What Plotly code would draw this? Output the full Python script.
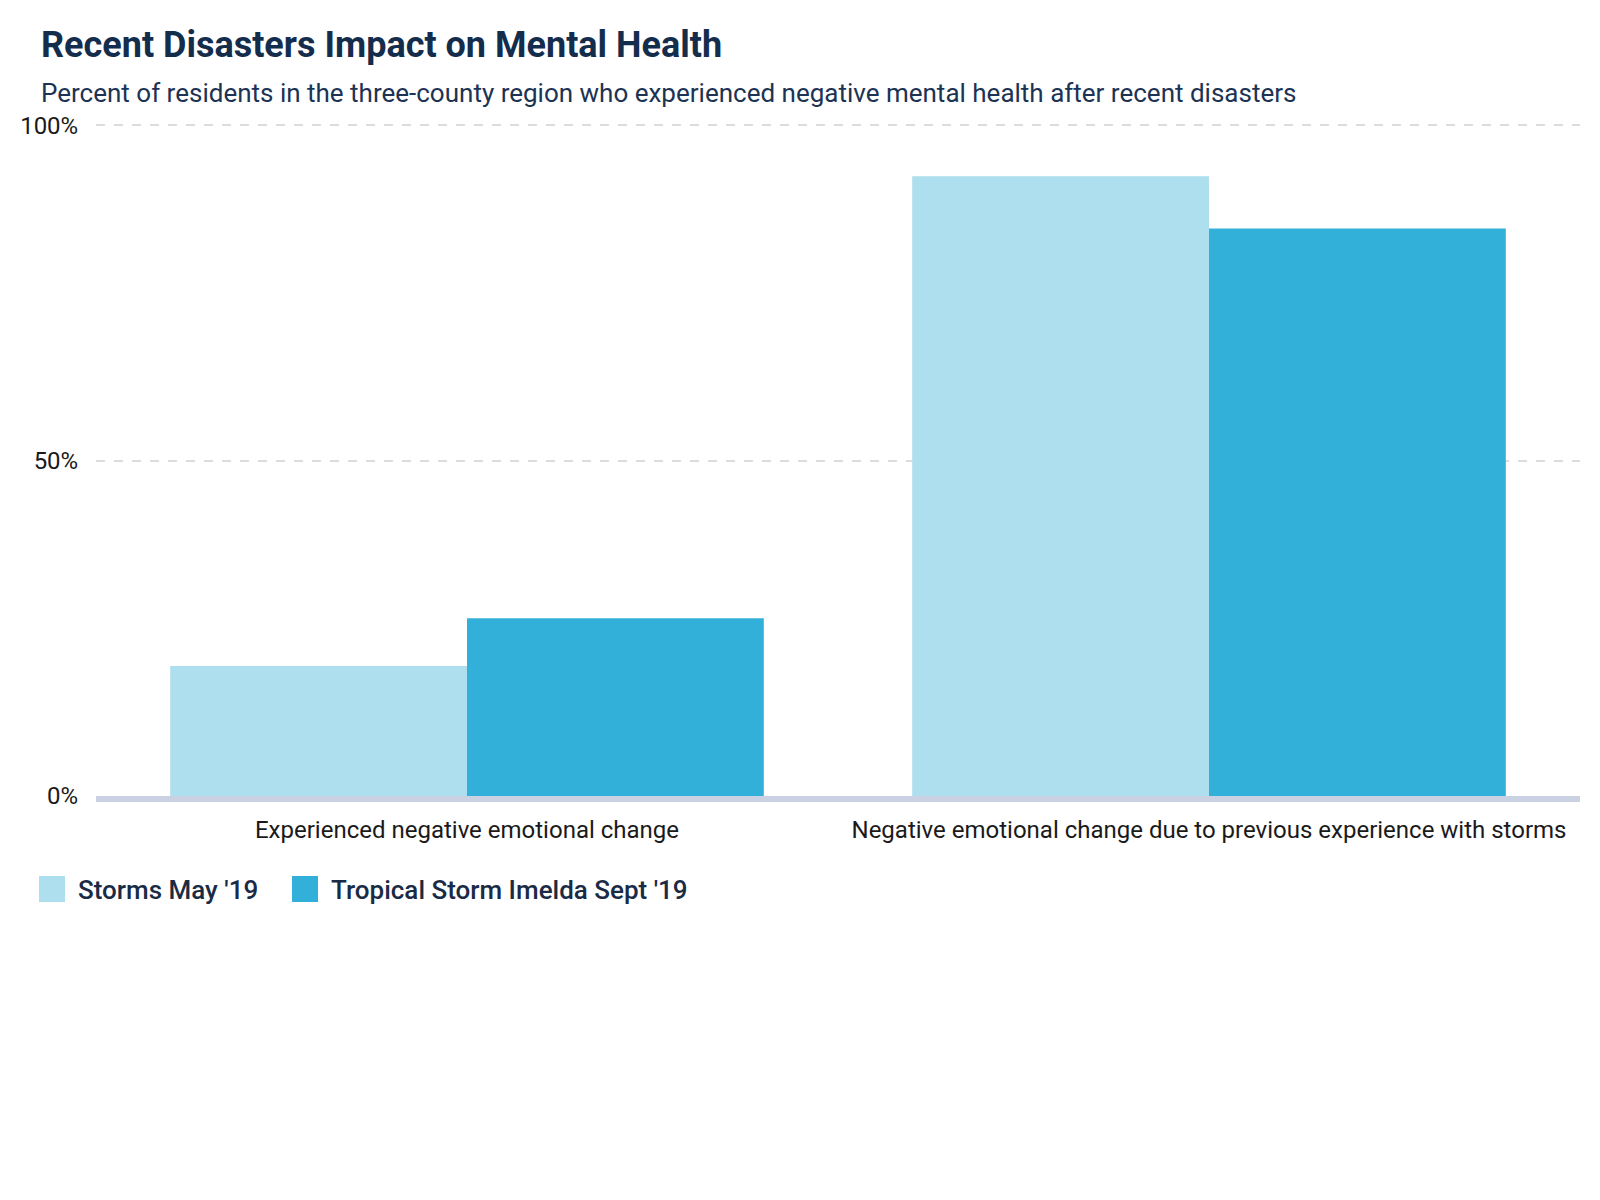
import plotly.graph_objects as go

categories = ["Experienced negative emotional change",
              "Negative emotional change due to previous experience with storms"]
series_names = ["Storms May '19", "Tropical Storm Imelda Sept '19"]
storms_may = [19.4, 92.4]
imelda_sept = [26.5, 84.6]
series_values = [storms_may, imelda_sept]
colors = ["#addfee", "#33b0d9"]
y_ticks = [0, 50, 100]
y_tick_labels = ["0%", "50%", "100%"]

W, H = 1600, 1200
L, R, T, B = 96, 20, 124, 404
PW, PH = W - L - R, H - T - B
YMAX = 100.2

def px(x):
    return (x - L) / PW

def py(y):
    return (H - B - y) / PH

FONT = "Roboto"
NAVY = "#142d4c"

fig = go.Figure()
for name, vals, c in zip(series_names, series_values, colors):
    fig.add_trace(go.Bar(x=categories, y=vals, name=name, marker=dict(color=c, line=dict(width=0)),
                         showlegend=False))

fig.update_layout(
    width=W, height=H,
    margin=dict(l=L, r=R, t=T, b=B, pad=0),
    paper_bgcolor="white", plot_bgcolor="white",
    barmode="group", bargap=0.2, bargroupgap=0,
    font=dict(family=FONT, size=24, color="#1a1a1a"),
    xaxis=dict(showgrid=False, showline=True, linecolor="#c9d1e3", linewidth=6,
               ticks="outside", ticklen=7, tickcolor="rgba(0,0,0,0)",
               tickfont=dict(size=24, color="#1a1a1a"), zeroline=False),
    yaxis=dict(range=[0, YMAX], tickvals=y_ticks, ticktext=y_tick_labels,
               showgrid=True, gridcolor="#dcdcdc", griddash="dash", gridwidth=1.5,
               zeroline=False, showline=False, ticks="outside", ticklen=12,
               tickcolor="rgba(0,0,0,0)", tickfont=dict(size=24, color="#1a1a1a")),
)

annotations = [
    dict(text="Recent Disasters Impact on Mental Health", xref="paper", yref="paper",
         x=px(39), y=py(45), xanchor="left", yanchor="middle", showarrow=False,
         font=dict(family=FONT, size=36, color=NAVY, weight=700)),
    dict(text="Percent of residents in the three-county region who experienced negative mental health after recent disasters",
         xref="paper", yref="paper",
         x=px(39), y=py(93), xanchor="left", yanchor="middle", showarrow=False,
         font=dict(family=FONT, size=26, color="#1c3354")),
]
shapes = []
legend_x = [39, 292]
for i, (name, c) in enumerate(zip(series_names, colors)):
    x0 = legend_x[i]
    shapes.append(dict(type="rect", xref="paper", yref="paper",
                       x0=px(x0), x1=px(x0 + 26), y0=py(902), y1=py(876),
                       fillcolor=c, line=dict(width=0)))
    annotations.append(dict(text=name, xref="paper", yref="paper",
                            x=px(x0 + 37), y=py(890), xanchor="left", yanchor="middle",
                            showarrow=False,
                            font=dict(family=FONT, size=26, color="#1a2b45", weight=500)))

fig.update_layout(annotations=annotations, shapes=shapes)
fig.write_html("out.html")
